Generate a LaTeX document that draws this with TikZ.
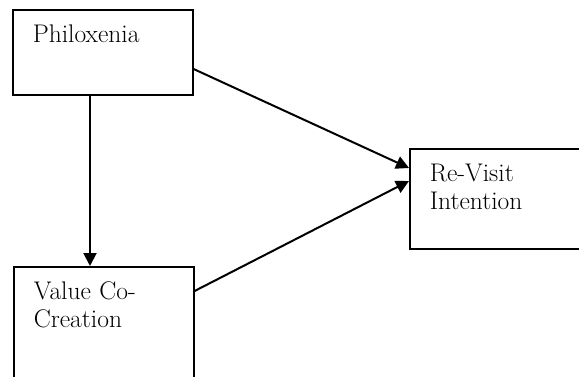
\documentclass[tikz,border=0pt]{standalone}
\usepackage{fontspec}
\usepackage{tikz}
\usetikzlibrary{arrows.meta}
\tikzset{cons/.style={rectangle,draw,line width=1.6pt,anchor=north west,text width=140pt,align=left,inner xsep=20pt,inner ysep=16pt,text height=16.5pt,font=\fontsize{25.5}{28.5}\selectfont}}
\tikzset{arr/.style={line width=2pt,-{Triangle[length=13pt,width=13pt]}}}

\begin{document}
\begin{tikzpicture}[x=1pt,y=-1pt]
  \clip (0,0) rectangle (579,376);
  \node[cons,text depth=36.5pt] (phil) at (12,9) {Philoxenia};
  \node[cons,text depth=66.5pt] (vcc) at (13,266) {Value Co-\\Creation};
  \node[cons,text width=141pt,text depth=51.5pt] (rvi) at (409,148) {Re-Visit\\Intention};
  \draw ([xshift=78pt]phil.south west) edge[arr] ([xshift=77pt]vcc.north west)
  ([yshift=-60pt]phil.north east) edge[arr] ([yshift=-20pt]rvi.north west)
  ([yshift=-25pt]vcc.north east) edge[arr] ([yshift=-33pt]rvi.north west);
\end{tikzpicture}
\end{document}
